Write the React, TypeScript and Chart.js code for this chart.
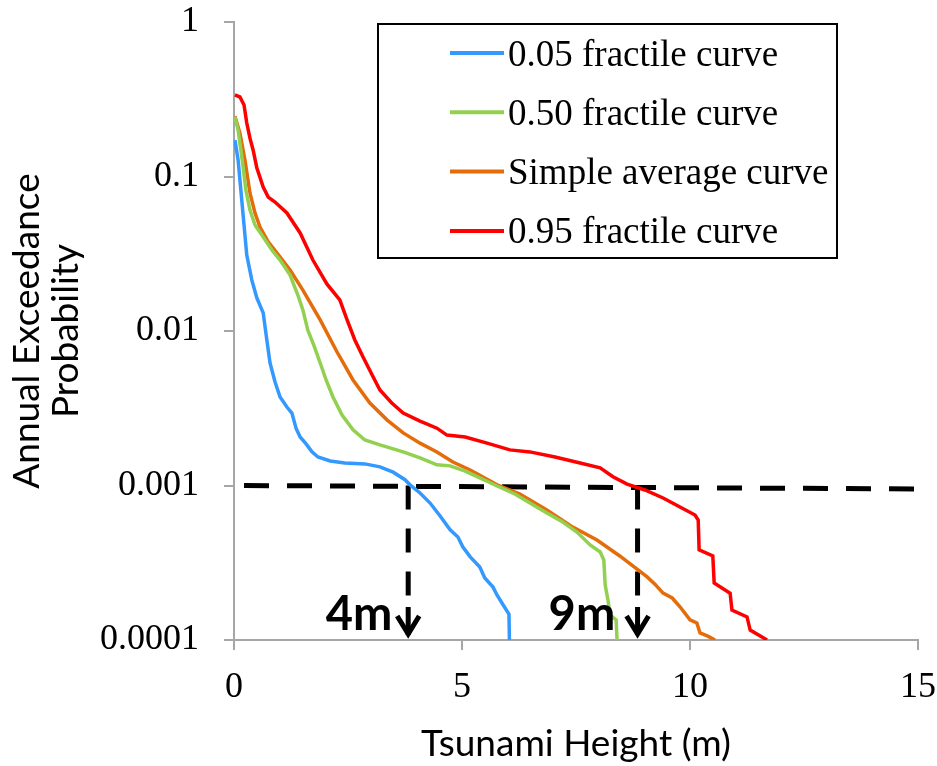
import React, { useEffect, useRef } from 'react';
import { Chart, registerables } from 'chart.js';

Chart.register(...registerables);

// ---------- data ----------
const seriesLabels = ['0.05 fractile curve', '0.50 fractile curve', 'Simple average curve', '0.95 fractile curve'];
const seriesColors = ['#3399FF', '#92D050', '#E46C0A', '#FF0000'];

const x05 = [0.02, 0.09, 0.15, 0.22, 0.28, 0.39, 0.5, 0.64, 0.72, 0.79, 0.9, 1.01, 1.16, 1.27, 1.36, 1.45, 1.58, 1.71, 1.84, 2.11, 2.43, 2.87, 3.2, 3.49, 3.75, 3.86, 4.08, 4.3, 4.52, 4.74, 4.91, 5.02, 5.18, 5.39, 5.5, 5.68, 5.77, 5.9, 6.03, 6.04];
const p05 = [0.172, 0.128, 0.0818, 0.0485, 0.031, 0.0214, 0.0164, 0.0131, 0.00875, 0.00621, 0.00468, 0.00374, 0.00322, 0.00294, 0.00235, 0.00206, 0.00186, 0.00165, 0.00153, 0.00144, 0.0014, 0.00138, 0.00132, 0.00122, 0.00109, 0.00101, 0.000894, 0.00077, 0.000635, 0.000516, 0.000464, 0.0004, 0.000345, 0.000297, 0.000252, 0.00022, 0.000195, 0.000169, 0.000147, 0.0001];

const x50 = [0.02, 0.09, 0.18, 0.26, 0.35, 0.46, 0.64, 0.83, 1.01, 1.23, 1.4, 1.51, 1.62, 1.75, 1.89, 2.02, 2.17, 2.37, 2.61, 2.87, 3.2, 3.71, 4.08, 4.45, 4.74, 5.07, 5.39, 5.77, 6.16, 6.49, 6.86, 7.21, 7.52, 7.81, 8.03, 8.11, 8.14, 8.2, 8.25, 8.38, 8.4];
const p50 = [0.243, 0.2, 0.128, 0.0818, 0.0607, 0.0485, 0.0406, 0.0334, 0.0288, 0.023, 0.0171, 0.0137, 0.0101, 0.00811, 0.00621, 0.00482, 0.00374, 0.00286, 0.00229, 0.00197, 0.00183, 0.00165, 0.00151, 0.00136, 0.00134, 0.00124, 0.00112, 0.000993, 0.000881, 0.00077, 0.000664, 0.00058, 0.0005, 0.000412, 0.000371, 0.00033, 0.000227, 0.000182, 0.000145, 0.000135, 0.0001];

const xAvg = [0.02, 0.13, 0.24, 0.35, 0.46, 0.57, 0.75, 0.94, 1.23, 1.51, 1.89, 2.26, 2.61, 2.98, 3.36, 3.71, 4.08, 4.45, 4.8, 5.18, 5.77, 6.27, 6.86, 7.43, 7.96, 8.46, 9.06, 9.23, 9.41, 9.61, 9.78, 10.0, 10.15, 10.22, 10.39, 10.55];
const pAvg = [0.245, 0.191, 0.128, 0.0782, 0.0581, 0.0471, 0.0377, 0.032, 0.0248, 0.0184, 0.0118, 0.00731, 0.00482, 0.00342, 0.00265, 0.00219, 0.00188, 0.00165, 0.00142, 0.00126, 0.00101, 0.000881, 0.000694, 0.000538, 0.000444, 0.00035, 0.000256, 0.00023, 0.000201, 0.000187, 0.000164, 0.000135, 0.000129, 0.000111, 0.000106, 0.0001];

const x95 = [0.02, 0.13, 0.22, 0.28, 0.35, 0.42, 0.5, 0.64, 0.75, 0.9, 1.16, 1.45, 1.73, 2.04, 2.32, 2.48, 2.65, 2.83, 3.03, 3.2, 3.46, 3.71, 4.08, 4.45, 4.67, 5.07, 5.55, 6.05, 6.49, 7.04, 7.59, 8.03, 8.31, 8.62, 9.01, 9.41, 9.78, 10.11, 10.18, 10.2, 10.5, 10.53, 10.88, 10.92, 11.25, 11.32, 11.69];
const p95 = [0.337, 0.327, 0.29, 0.222, 0.177, 0.148, 0.114, 0.0855, 0.0736, 0.0684, 0.0581, 0.0431, 0.0288, 0.0201, 0.0159, 0.0118, 0.00875, 0.00679, 0.00519, 0.00415, 0.00342, 0.00294, 0.00261, 0.00235, 0.00212, 0.00206, 0.00188, 0.0017, 0.00165, 0.00153, 0.0014, 0.0013, 0.00114, 0.00102, 0.000935, 0.00083, 0.000726, 0.000644, 0.000598, 0.000383, 0.00035, 0.000234, 0.000201, 0.000156, 0.000141, 0.000116, 0.0001];

const xTicks = [0, 5, 10, 15];
const yTickValues = [0.0001, 0.001, 0.01, 0.1, 1];
const yTickLabels = ['0.0001', '0.001', '0.01', '0.1', '1'];

const refLineX = [0.22, 15];
const refLineP = [0.001, 0.00095];
const markerX = [3.82, 8.85];
const markerTopP = 0.001;
const markerEndP = 0.00015;
const markerLabels = ['4m', '9m'];
const markerLabelX = [2.74, 7.63];

const xTitle = 'Tsunami Height (m)';
const yTitle = ['Annual Exceedance', 'Probability'];

const seriesX = [x05, x50, xAvg, x95];
const seriesP = [p05, p50, pAvg, p95];

const toPoints = (xs: number[], ps: number[]) => xs.map((x, i) => ({ x, y: ps[i] }));

const markerPlugin = {
  id: 'markers',
  afterDatasetsDraw(chart: any) {
    const { ctx, scales } = chart;
    const xs = scales.x;
    const ys = scales.y;
    ctx.save();
    markerX.forEach((mx, i) => {
      const px = xs.getPixelForValue(mx);
      const tip = ys.getPixelForValue(0.0001) - 3;
      ctx.strokeStyle = '#000';
      ctx.lineWidth = 5;
      ctx.lineCap = 'butt';
      ctx.beginPath();
      ctx.moveTo(px, tip - 30);
      ctx.lineTo(px, tip - 2);
      ctx.stroke();
      ctx.beginPath();
      ctx.lineJoin = 'miter';
      ctx.moveTo(px - 11, tip - 21);
      ctx.lineTo(px, tip - 3);
      ctx.lineTo(px + 11, tip - 21);
      ctx.stroke();
      ctx.fillStyle = '#000';
      ctx.font = 'bold 47px Lato';
      ctx.textAlign = 'center';
      ctx.textBaseline = 'alphabetic';
      ctx.fillText(markerLabels[i], xs.getPixelForValue(markerLabelX[i]), tip - 7);
    });
    ctx.restore();
  },
  afterDraw(chart: any) {
    const { ctx } = chart;
    ctx.save();
    const bx = 378, by = 24, bw = 459, bh = 234;
    ctx.fillStyle = '#fff';
    ctx.fillRect(bx, by, bw, bh);
    ctx.strokeStyle = '#000';
    ctx.lineWidth = 2;
    ctx.strokeRect(bx, by, bw, bh);
    seriesLabels.forEach((lab, i) => {
      const ly = 53 + i * 59.3;
      ctx.strokeStyle = seriesColors[i];
      ctx.lineWidth = 4;
      ctx.beginPath();
      ctx.moveTo(450, ly);
      ctx.lineTo(504, ly);
      ctx.stroke();
      ctx.fillStyle = '#000';
      ctx.font = '37px "Liberation Serif"';
      ctx.textAlign = 'left';
      ctx.textBaseline = 'alphabetic';
      ctx.fillText(lab, 508, ly + 12.5);
    });
    ctx.restore();
  },
};

export default function App() {
  const ref = useRef<HTMLCanvasElement | null>(null);
  useEffect(() => {
    if (!ref.current) return;
    const datasets: any[] = seriesLabels.map((label, i) => ({
      label,
      data: toPoints(seriesX[i], seriesP[i]),
      borderColor: seriesColors[i],
      borderWidth: 3.5,
      pointRadius: 0,
      tension: 0,
      fill: false,
    }));
    datasets.push({
      label: 'ref',
      data: toPoints(refLineX, refLineP),
      borderColor: '#000',
      borderWidth: 5,
      borderDash: [25, 18],
      pointRadius: 0,
      fill: false,
    });
    markerX.forEach((mx) => {
      datasets.push({
        label: 'marker',
        data: [{ x: mx, y: markerTopP }, { x: mx, y: markerEndP }],
        borderColor: '#000',
        borderWidth: 5,
        borderDash: [24, 19],
        pointRadius: 0,
        fill: false,
      });
    });
    const gridOpts = {
      display: true,
      drawOnChartArea: false,
      drawTicks: true,
      tickLength: 10,
      color: '#A6A6A6',
      lineWidth: 2,
    };
    const chart = new Chart(ref.current, {
      type: 'line',
      data: { datasets },
      plugins: [markerPlugin],
      options: {
        animation: false,
        responsive: false,
        devicePixelRatio: 1,
        layout: { padding: { top: 22, right: 19, left: 0, bottom: 0 } },
        plugins: { legend: { display: false }, tooltip: { enabled: false } },
        scales: {
          x: {
            type: 'linear',
            min: 0,
            max: 15,
            afterFit: (s: any) => {
              s.height = 126;
              s.paddingLeft = 0;
              s.paddingRight = 0;
            },
            afterBuildTicks: (s: any) => { s.ticks = xTicks.map((v) => ({ value: v })); },
            ticks: {
              autoSkip: false,
              maxRotation: 0,
              padding: 16,
              color: '#000',
              font: { family: '"Liberation Serif"', size: 36 },
              callback: (v: any) => String(v),
            },
            grid: gridOpts,
            border: { color: '#A6A6A6', width: 2 },
            title: {
              display: true,
              text: xTitle,
              color: '#000',
              font: { family: 'Lato', size: 37 },
              padding: { top: 0, bottom: 0 },
            },
          },
          y: {
            type: 'logarithmic',
            min: 0.0001,
            max: 1,
            afterFit: (s: any) => {
              s.width = 234;
              s.paddingTop = 0;
              s.paddingBottom = 0;
            },
            afterBuildTicks: (s: any) => { s.ticks = yTickValues.map((v) => ({ value: v })); },
            ticks: {
              autoSkip: false,
              padding: 25,
              color: '#000',
              font: { family: '"Liberation Serif"', size: 36 },
              callback: (v: any) => {
                const idx = yTickValues.findIndex((t) => Math.abs(Math.log10(t) - Math.log10(v)) < 1e-6);
                return idx >= 0 ? yTickLabels[idx] : '';
              },
            },
            grid: gridOpts,
            border: { color: '#A6A6A6', width: 2 },
            title: {
              display: true,
              text: yTitle,
              color: '#000',
              font: { family: 'Lato', size: 37, lineHeight: 1.05 },
              padding: { top: 8, bottom: 0 },
            },
          },
        },
      },
    });
    return () => chart.destroy();
  }, []);
  return (
    <div style={{ position: 'absolute', left: 0, top: 0, width: 937, height: 766, background: '#fff' }}>
      <canvas ref={ref} width={937} height={766} style={{ width: 937, height: 766, display: 'block' }} />
    </div>
  );
}
